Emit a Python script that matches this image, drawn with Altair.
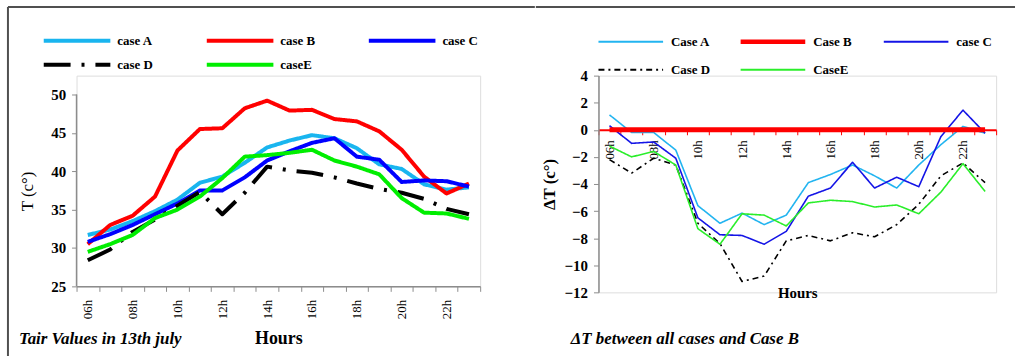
import altair as alt
import pandas as pd

SERIF = "Liberation Serif"

hours = ["06h", "07h", "08h", "09h", "10h", "11h", "12h", "13h", "14h",
         "15h", "16h", "17h", "18h", "19h", "20h", "21h", "22h", "23h"]
even_hours = ["06h", "08h", "10h", "12h", "14h", "16h", "18h", "20h", "22h"]

# Air temperature per case (°C), 13 July
left_cases = ["case A", "case B", "case C", "case D", "caseE"]
tair_a = [31.7, 32.4, 33.5, 34.8, 36.3, 38.5, 39.3, 41.1, 43.1, 44.0, 44.7, 44.3, 43.0, 40.9, 40.3, 38.3, 37.6, 37.9]
tair_b = [30.5, 33.0, 34.2, 36.7, 42.7, 45.5, 45.6, 48.2, 49.2, 47.9, 48.0, 46.8, 46.5, 45.2, 42.8, 39.3, 37.1, 38.4]
tair_c = [30.8, 31.8, 33.0, 34.4, 35.8, 37.5, 37.5, 39.2, 41.4, 42.6, 43.7, 44.3, 41.9, 41.5, 38.6, 38.8, 38.7, 38.0]
tair_d = [28.4, 29.8, 32.1, 33.7, 35.5, 37.3, 34.4, 37.2, 40.6, 40.1, 39.8, 39.2, 38.4, 37.7, 37.2, 36.4, 35.1, 34.4]
tair_e = [29.5, 30.5, 31.7, 33.9, 35.0, 36.7, 39.1, 41.9, 42.1, 42.4, 42.8, 41.4, 40.6, 39.6, 36.5, 34.6, 34.5, 33.8]

# Difference of each case against case B
right_cases = ["Case A", "Case B", "case C", "Case D", "CaseE"]
dt_a = [1.1, -0.2, -0.2, -1.5, -5.6, -6.9, -6.15, -7.0, -6.3, -3.9, -3.3, -2.6, -3.4, -4.3, -2.6, -1.1, 0.25, -0.25]
dt_b = [0.0] * 18
dt_c = [0.3, -1.0, -0.9, -2.1, -6.5, -7.75, -7.8, -8.45, -7.5, -4.9, -4.3, -2.4, -4.3, -3.5, -4.2, -0.5, 1.45, -0.25]
dt_d = [-2.2, -3.2, -2.1, -2.6, -6.9, -8.4, -11.2, -10.8, -8.2, -7.8, -8.2, -7.6, -7.9, -7.0, -5.5, -3.4, -2.45, -3.9]
dt_e = [-1.2, -2.0, -1.6, -2.6, -7.3, -8.45, -6.2, -6.3, -7.1, -5.4, -5.2, -5.3, -5.7, -5.55, -6.2, -4.6, -2.5, -4.55]

left_colors = ["#19b5ef", "#ff0000", "#0000ff", "#000000", "#00ee00"]
left_dash = [[1, 0], [1, 0], [1, 0], [27, 11, 3, 11], [1, 0]]
right_colors = ["#22b4f0", "#ff0000", "#1414e6", "#000000", "#2aee2a"]
right_dash = [[1, 0], [1, 0], [1, 0], [6, 4, 2, 4], [1, 0]]
right_widths = [2, 4.5, 2, 2, 2]


def long_table(cases, series, name):
    rows = []
    for case, vals in zip(cases, series):
        for h, v in zip(hours, vals):
            rows.append({"hour": h, "case": case, name: v})
    return pd.DataFrame(rows)


left_df = long_table(left_cases, [tair_a, tair_b, tair_c, tair_d, tair_e], "T")
right_df = long_table(right_cases, [dt_a, dt_b, dt_c, dt_d, dt_e], "dT")
one = pd.DataFrame({"k": [0]})

even_expr = "indexof(" + str(even_hours) + ", datum.value) >= 0 ? datum.value : ''"


def band_x(axis):
    return alt.X("hour:O", sort=hours,
                 scale=alt.Scale(type="band", domain=hours, paddingInner=0, paddingOuter=0),
                 bandPosition=0.5, axis=axis)


def frame_rule(**enc):
    return alt.Chart(one).mark_rule(color="#505050", strokeWidth=2).encode(**enc)


def caption(text, x, y):
    return alt.Chart(one).mark_text(
        text=text, align="left", baseline="middle", font=SERIF, fontSize=17,
        fontStyle="italic", fontWeight="bold", color="black").encode(x=alt.value(x), y=alt.value(y))


def legend_entries(cases, colors, dashes, widths, starts, rows, length, gap):
    layers = []
    for i, case in enumerate(cases):
        x0 = starts[i % 3]
        y0 = rows[i // 3]
        mark_args = dict(color=colors[i], strokeWidth=widths[i])
        if dashes[i] != [1, 0]:
            mark_args["strokeDash"] = dashes[i]
        layers.append(alt.Chart(one).mark_rule(**mark_args).encode(
            x=alt.value(x0), x2=alt.value(x0 + length), y=alt.value(y0)))
        layers.append(alt.Chart(one).mark_text(
            text=case, align="left", baseline="middle", font=SERIF, fontSize=13,
            fontWeight="bold", color="black").encode(
            x=alt.value(x0 + length + gap), y=alt.value(y0)))
    return layers


# ---------- left panel: air temperature ----------
left_x_axis = alt.Axis(labelAngle=-90, labelFont=SERIF, labelFontSize=13, labelColor="black",
                       labelExpr=even_expr, tickBand="extent", tickSize=5, tickColor="#8c8c8c",
                       domainColor="#8c8c8c", domainWidth=1.5, labelPadding=8, grid=False,
                       title="Hours", titleFont=SERIF, titleFontSize=18, titleFontWeight="bold",
                       titleColor="black", titleY=52, titleBaseline="middle")

left_y_axis = alt.Axis(values=[25, 30, 35, 40, 45, 50], domain=False, grid=False,
                       labelFont=SERIF, labelFontSize=15, labelFontWeight="bold",
                       labelColor="black", tickSize=5, tickColor="#8c8c8c", labelPadding=6,
                       title="T (c°)", titleFont=SERIF, titleFontSize=17,
                       titleFontWeight="normal", titleColor="black", titleAngle=-90,
                       titleX=-49, titleY=116, titleAlign="center", titleBaseline="middle")
left_y_scale = alt.Scale(domain=[25, 52.46], nice=False, zero=False)

left_lines = alt.Chart(left_df).mark_line(strokeWidth=4, strokeJoin="round").encode(
    x=band_x(left_x_axis),
    y=alt.Y("T:Q", scale=left_y_scale, axis=left_y_axis),
    color=alt.Color("case:N", scale=alt.Scale(domain=left_cases, range=left_colors), legend=None),
    strokeDash=alt.StrokeDash("case:N", scale=alt.Scale(domain=left_cases, range=left_dash), legend=None),
)

# vertical axis line running only from 25 to 50
left_axis_line = alt.Chart(pd.DataFrame({"T": [25], "T_top": [50]})).mark_rule(
    color="#8c8c8c", strokeWidth=1.5).encode(
    x=alt.value(0), y=alt.Y("T:Q", scale=left_y_scale, axis=left_y_axis), y2="T_top:Q")

left_panel = alt.layer(
    left_axis_line, left_lines,
    caption("Tair Values in 13th july", -58, 265),
    frame_rule(x=alt.value(-69), y=alt.value(-69), y2=alt.value(282)),
    frame_rule(x=alt.value(-69), x2=alt.value(461), y=alt.value(-69)),
    *legend_entries(left_cases, left_colors, left_dash, [4] * 5,
                    starts=[-33, 131, 294], rows=[-35, -11], length=67, gap=7),
).properties(width=406, height=212)

# ---------- right panel: difference against case B ----------
right_x_axis = alt.Axis(labelAngle=-90, labelFont=SERIF, labelFontSize=13, labelColor="black",
                        labelExpr=even_expr, tickBand="extent", tickSize=5, tickColor="#ff0000",
                        domainColor="#ff0000", domainWidth=2, labelPadding=5, grid=False,
                        offset=-163.5, title="Hours", titleFont=SERIF, titleFontSize=15,
                        titleFontWeight="bold", titleColor="black", titleY=164,
                        titleBaseline="middle")

right_y_axis = alt.Axis(values=list(range(-12, 5, 2)), grid=False, labelFont=SERIF,
                        labelFontSize=15, labelFontWeight="bold", labelColor="black",
                        tickSize=5, tickColor="#8c8c8c", domainColor="#8c8c8c", domainWidth=1.5,
                        labelPadding=6, title="ΔT (c°)", titleFont=SERIF, titleFontSize=17,
                        titleFontWeight="bold", titleColor="black", titleAngle=-90,
                        titleX=-49, titleY=109, titleAlign="center", titleBaseline="middle")

right_y = alt.Y("dT:Q", scale=alt.Scale(domain=[-12, 4], nice=False, zero=False), axis=right_y_axis)

right_thin = alt.Chart(right_df[right_df["case"] != "Case B"]).mark_line(
    strokeJoin="round", strokeWidth=1.6).encode(
    x=band_x(right_x_axis),
    y=right_y,
    color=alt.Color("case:N", scale=alt.Scale(domain=right_cases, range=right_colors), legend=None),
    strokeDash=alt.StrokeDash("case:N", scale=alt.Scale(domain=right_cases, range=right_dash), legend=None),
)

right_b = alt.Chart(right_df[right_df["case"] == "Case B"]).mark_line(
    strokeWidth=5, color="#ff0000").encode(x=band_x(right_x_axis), y=right_y)

right_panel = alt.layer(
    right_thin, right_b,
    caption("ΔT between all cases and Case B", -28, 265),
    frame_rule(x=alt.value(-63), x2=alt.value(419), y=alt.value(-69)),
    *legend_entries(right_cases, right_colors, right_dash, right_widths,
                    starts=[0, 143, 287], rows=[-34, -6], length=65, gap=8),
).properties(width=400, height=218)

chart = alt.hconcat(left_panel, right_panel, spacing=-3).resolve_scale(
    color="independent", strokeDash="independent"
).properties(
    padding={"left": 6, "top": 4, "right": 0, "bottom": 0},
    background="white",
).configure_view(stroke=None).configure(font=SERIF)

chart.save("out.html", embed_options={"renderer": "svg", "actions": False})
